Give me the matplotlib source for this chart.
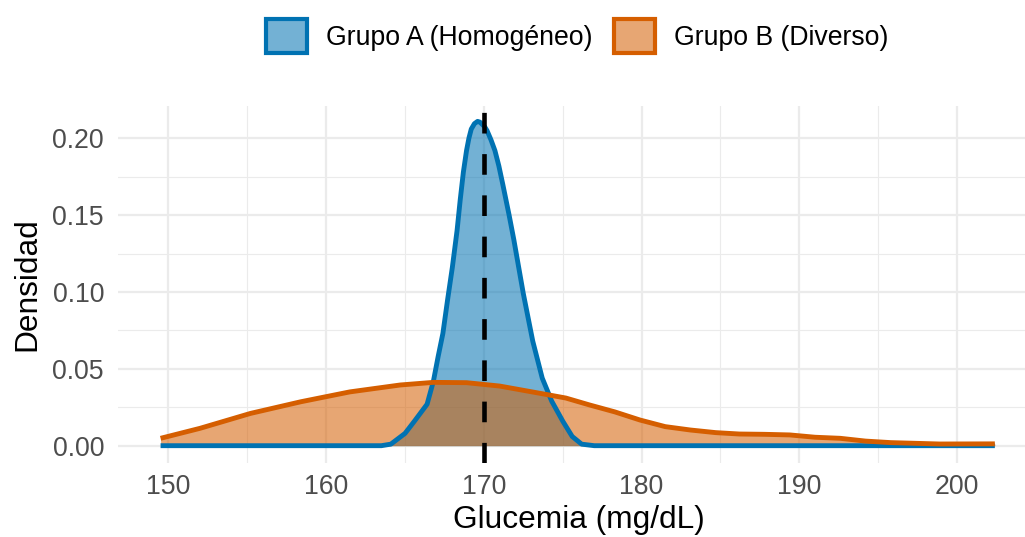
import matplotlib
matplotlib.use('Agg')
from matplotlib import pyplot as plt
from matplotlib.colors import to_rgba
from matplotlib.patches import Patch
from matplotlib.ticker import MultipleLocator

plt.rcParams['font.family'] = ['Liberation Sans', 'DejaVu Sans']

# densidades
x_a = [149.5, 163.5, 164.1, 165.0, 165.6, 166.4, 166.8, 167.1, 167.4, 167.7, 168.0,
       168.3, 168.5, 168.7, 168.9, 169.05, 169.2, 169.4, 169.6, 169.75, 169.9, 170.05,
       170.2, 170.45, 170.7, 170.95, 171.2, 171.6, 171.9, 172.5, 173.1, 173.7, 174.3,
       175.0, 175.6, 176.2, 177.0, 202.4]
dens_a = [0.0, 0.0, 0.001, 0.008, 0.016, 0.027, 0.042, 0.058, 0.073, 0.095, 0.116,
          0.140, 0.160, 0.178, 0.192, 0.200, 0.206, 0.2095, 0.211, 0.2105, 0.209, 0.2075,
          0.205, 0.199, 0.192, 0.182, 0.170, 0.150, 0.134, 0.099, 0.068, 0.044, 0.029,
          0.016, 0.006, 0.001, 0.0, 0.0]

x_b = [149.5, 152.0, 155.2, 158.4, 161.5, 164.7, 166.8, 168.9, 171.0, 173.6, 175.2,
       176.7, 178.3, 179.9, 181.5, 183.1, 184.7, 186.2, 187.8, 189.4, 191.0, 192.6,
       194.2, 195.8, 198.9, 202.4]
dens_b = [0.0048, 0.0113, 0.021, 0.0286, 0.035, 0.0395, 0.0412, 0.041, 0.0388, 0.034,
          0.031, 0.0265, 0.022, 0.0167, 0.0124, 0.0102, 0.0085, 0.0076, 0.0074, 0.007,
          0.0055, 0.0048, 0.003, 0.002, 0.0011, 0.0012]

media = 170
etiquetas = ['Grupo A (Homogéneo)', 'Grupo B (Diverso)']
colores = ['#0072B2', '#D55E00']

fig = plt.figure(figsize=(10.25, 5.37), dpi=100)
ax = fig.add_axes([118 / 1025, 74.4 / 537, 921 / 1025, 356.6 / 537])

for xs, ys, c in [(x_a, dens_a, colores[0]), (x_b, dens_b, colores[1])]:
    ax.fill_between(xs, 0, ys, color=c, alpha=0.55, lw=0)
    ax.plot(xs, ys, color=c, lw=3.5, solid_joinstyle='round', solid_capstyle='butt')

ax.axvline(media, color='black', lw=3.3, ls=(0, (4.5, 4.5)))

ax.set_xlim(146.8, 205.2)
ax.set_ylim(-0.011, 0.221)
ax.xaxis.set_major_locator(MultipleLocator(10))
ax.xaxis.set_minor_locator(MultipleLocator(5))
ax.yaxis.set_major_locator(MultipleLocator(0.05))
ax.yaxis.set_minor_locator(MultipleLocator(0.025))
ax.yaxis.set_major_formatter(lambda v, p: f'{v:.2f}')
ax.grid(which='major', color='#ebebeb', lw=1.6)
ax.grid(which='minor', color='#ebebeb', lw=0.8)
ax.set_axisbelow(True)
for s in ax.spines.values():
    s.set_visible(False)
ax.tick_params(which='both', length=0, labelsize=19.2, labelcolor='#4d4d4d')
ax.tick_params(axis='y', pad=10)
ax.tick_params(axis='x', pad=8)

ax.set_xlabel('Glucemia (mg/dL)', fontsize=22.8, labelpad=4)
ax.set_ylabel('Densidad', fontsize=22.8, labelpad=7)

handles = [Patch(facecolor=to_rgba(c, 0.55), edgecolor=c, lw=3) for c in colores]
fig.legend(handles, etiquetas, loc='center', bbox_to_anchor=(577 / 1025, 1 - 36 / 537),
           ncol=2, frameon=False, fontsize=19.2, handlelength=1.55, handleheight=1.55,
           handletextpad=0.7, columnspacing=0.8)

fig.savefig('out.png', dpi=100)
